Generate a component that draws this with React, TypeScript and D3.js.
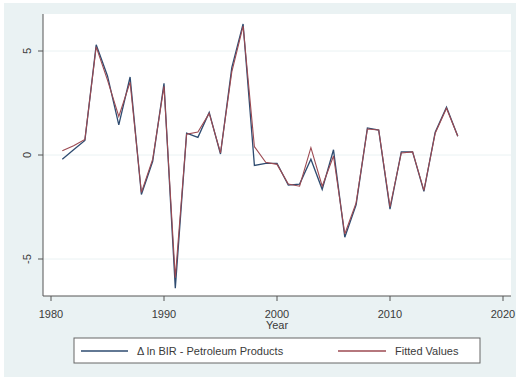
import * as d3 from "d3";

const years = d3.range(1981, 2017);
const actual = [
  -0.2, 0.25, 0.7, 5.3, 3.8, 1.45, 3.75, -1.9, -0.3, 3.45, -6.4, 1.05, 0.85, 2.05, 0.05, 4.2,
  6.3, -0.5, -0.4, -0.4, -1.45, -1.4, -0.2, -1.65, 0.25, -3.95, -2.4, 1.3, 1.2, -2.6, 0.15,
  0.15, -1.75, 1.1, 2.3, 0.9,
];
const fitted = [
  0.2, 0.45, 0.75, 5.2, 3.6, 1.85, 3.5, -1.8, -0.2, 3.3, -5.9, 1.0, 1.1, 2.0, 0.1, 4.0, 6.2,
  0.4, -0.35, -0.45, -1.4, -1.5, 0.35, -1.5, -0.05, -3.8, -2.3, 1.25, 1.2, -2.5, 0.1, 0.15,
  -1.7, 1.05, 2.25, 0.9,
];
const xTicks = [1980, 1990, 2000, 2010, 2020];
const yTicks = [-5, 0, 5];
const seriesNames = ["\u0394 ln BIR - Petroleum Products", "Fitted Values"];

const W = 518;
const H = 380;
const plot = { left: 43, right: 511, top: 14, bottom: 296 };
const font = "'Liberation Sans', Arial, sans-serif";
const textColor = "#3a3a3a";
const blue = "#2e4b70";
const red = "#9c4a52";

export default function App() {
  const x = d3.scaleLinear().domain([1980, 2020]).range([51, 503]);
  const y = d3.scaleLinear().domain([-5, 5]).range([259, 51]);

  const line = (vals: number[]) =>
    d3
      .line<number>()
      .x((_, i) => x(years[i]))
      .y((d) => y(d))(vals) ?? "";

  return (
    <div style={{ position: "absolute", left: 0, top: 0 }}>
      <svg width={W} height={H} style={{ display: "block" }} fontFamily={font}>
        <rect x={0} y={0} width={W} height={H} fill="#ffffff" />
        <rect x={4} y={3} width={512} height={374} fill="#eaf2f3" />
        <rect
          x={plot.left}
          y={plot.top}
          width={plot.right - plot.left}
          height={plot.bottom - plot.top}
          fill="#ffffff"
        />
        {/* grid */}
        {yTicks.map((t) => (
          <line
            key={"g" + t}
            x1={plot.left}
            x2={plot.right}
            y1={y(t)}
            y2={y(t)}
            stroke="#eaf2f3"
            strokeWidth={1}
          />
        ))}
        {/* axes */}
        <line x1={plot.left} x2={plot.left} y1={plot.top} y2={plot.bottom} stroke="#555" strokeWidth={1} />
        <line x1={plot.left} x2={plot.right} y1={plot.bottom} y2={plot.bottom} stroke="#555" strokeWidth={1} />
        {yTicks.map((t) => (
          <g key={"y" + t}>
            <line x1={plot.left - 5} x2={plot.left} y1={y(t)} y2={y(t)} stroke="#555" />
            <text
              transform={`translate(${31},${y(t)}) rotate(-90)`}
              textAnchor="middle"
              fontSize={11}
              fill={textColor}
            >
              {t}
            </text>
          </g>
        ))}
        {xTicks.map((t) => (
          <g key={"x" + t}>
            <line x1={x(t)} x2={x(t)} y1={plot.bottom} y2={plot.bottom + 5} stroke="#555" />
            <text x={x(t)} y={318} textAnchor="middle" fontSize={11} fill={textColor}>
              {t}
            </text>
          </g>
        ))}
        <text x={x(2000)} y={329} textAnchor="middle" fontSize={11} fill={textColor}>
          Year
        </text>
        {/* series */}
        <path d={line(actual)} fill="none" stroke={blue} strokeWidth={1.3} />
        <path d={line(fitted)} fill="none" stroke={red} strokeWidth={1.1} />
        {/* legend */}
        <rect x={74} y={338} width={406} height={25} fill="#ffffff" stroke="#666" strokeWidth={1} />
        <line x1={81} x2={128} y1={351} y2={351} stroke={blue} strokeWidth={1.3} />
        <text x={137} y={355} fontSize={11} fill={textColor}>
          {seriesNames[0]}
        </text>
        <line x1={338} x2={386} y1={351} y2={351} stroke={red} strokeWidth={1.3} />
        <text x={395} y={355} fontSize={11} fill={textColor}>
          {seriesNames[1]}
        </text>
      </svg>
    </div>
  );
}
